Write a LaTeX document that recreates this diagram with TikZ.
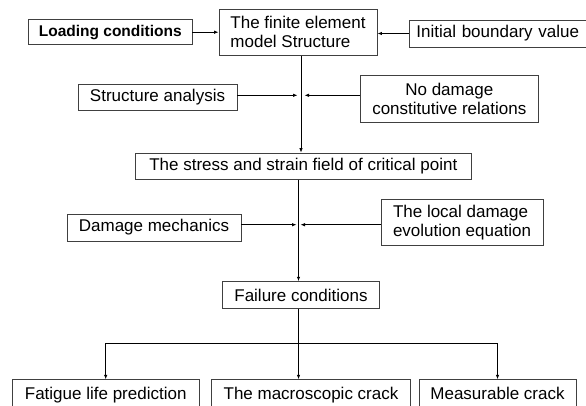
\documentclass[tikz,border=0pt]{standalone}
\usepackage{fontspec}
\setmainfont{Liberation Sans}
\usetikzlibrary{arrows.meta}

\begin{document}
\begin{tikzpicture}[x=1pt, y=-1pt,
    box/.style={draw=black!75, line width=0.9pt, inner sep=0pt, font=\fontsize{17}{19}\selectfont},
    leaf/.style={box, anchor=north, minimum height=30pt, text height=12.4pt, text depth=3.6pt},
    link/.style={-{Latex[length=4.5pt,width=3.5pt]}, line width=0.8pt}]
          \clip (0,0) rectangle (586,405);
          \fill [white] (0,0) rectangle (586,405);

          \node (fe) [box, minimum width=158pt, minimum height=45.7pt, align=left] at (298,32.2) {The finite element\\model Structure};
          \node (ld) [box, font=\bfseries\fontsize{15.5}{19}\selectfont, minimum width=163.3pt, minimum height=25pt] at (110.3,32.2) {Loading conditions};
          \node (ib) [box, anchor=west, text width=168pt, inner xsep=7pt, minimum height=27pt, align=left] at (409,33.5) {Initial boundary value};

          \node (sa) [box, minimum width=159pt, minimum height=26pt] at (157.5,97) {Structure analysis};
          \node (nd) [box, minimum width=177.3pt, minimum height=46.6pt, align=center] at (449.3,99) {No damage\\constitutive relations};
          \coordinate (j1) at (301,95.3);

          \node (sf) [box, minimum width=336.7pt, minimum height=26.3pt] at (303.3,166.2) {The stress and strain field of critical point};

          \node (dm) [box, minimum width=174pt, minimum height=27pt] at (154,227.5) {Damage mechanics};
          \node (le) [box, minimum width=162pt, minimum height=46.7pt, align=left] at (462,222.3) {The local damage\\evolution equation};
          \coordinate (j2) at (298.5,224.7);

          \node (fc) [box, minimum width=156.6pt, minimum height=26.6pt] at (301,295) {Failure conditions};
          \coordinate (br) at (298.5,343.3);

          \node (fl) [leaf, minimum width=186.7pt] at (105.7,379.3) {Fatigue life prediction};
          \node (mc) [leaf, minimum width=198.6pt] at (311,379.3) {The macroscopic crack};
          \node (mk) [leaf, minimum width=157pt] at (497.5,379.3) {Measurable crack};

          \path [link]
              (ld.east) edge (ld.east -| fe.west)
              (ib.west) edge (ib.west -| fe.east)
              (sa.east |- j1) edge ([xshift=-3.5pt]j1)
              (nd.west |- j1) edge ([xshift=3.5pt]j1)
              (fe.south -| j1) edge (sf.north -| j1)
              (dm.east |- j2) edge ([xshift=-2pt]j2)
              (le.west |- j2) edge ([xshift=2pt]j2)
              (sf.south -| j2) edge (fc.north -| j2)
              (br -| fl) edge (fl.north)
              (br) edge (mc.north -| br)
              (br -| mk) edge (mk.north);

          \draw [line width=0.8pt] (fc.south -| br) -- (br) (br -| fl) -- (br -| mk);
      \end{tikzpicture}
\end{document}
